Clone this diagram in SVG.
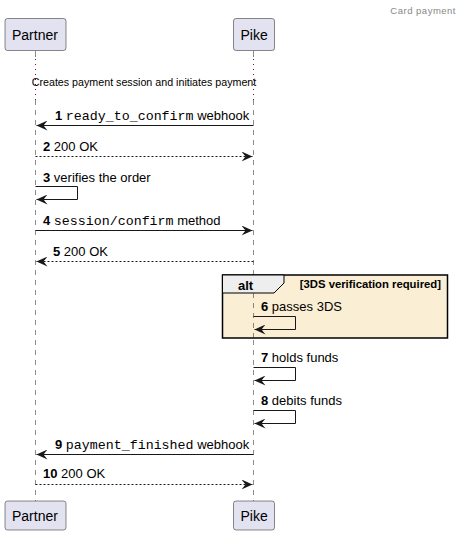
<svg xmlns="http://www.w3.org/2000/svg" width="463" height="538" viewBox="0 0 463 538">
<defs>
<style>
.part rect{fill:#E2E2F0;stroke:#181818;stroke-width:0.5}
.part text{font-family:"Liberation Sans",Arial,sans-serif;font-size:14px;fill:#000}
.life{stroke:#181818;stroke-width:0.5;stroke-dasharray:5,5;fill:none}
.delay{stroke:#800040;stroke-width:1;stroke-dasharray:1,4;fill:none}
.msg{stroke:#181818;stroke-width:1;fill:none}
.dash{stroke-dasharray:2,2}
.lbl{font-family:"Liberation Sans",Arial,sans-serif;font-size:13px;fill:#000}
.num{font-weight:bold}
.mono{font-family:"Liberation Mono","Courier New",monospace;font-size:13.3px}
</style>
<marker id="ah" viewBox="0 0 12 10" refX="11" refY="5" markerWidth="12" markerHeight="10" markerUnits="userSpaceOnUse" orient="auto">
<path d="M0,0 L11,5 L0,10 L4,5 Z" fill="#181818"/>
</marker>
</defs>
<rect width="463" height="538" fill="#FFFFFF"/>
<text x="456" y="14" text-anchor="end" font-family="Liberation Sans,Arial,sans-serif" font-size="9.5" fill="#888888" letter-spacing="0.5">Card payment</text>

<g id="lifelines">
<line x1="35.5" y1="51" x2="35.5" y2="57" stroke="#181818" stroke-width="0.5"/>
<line class="delay" x1="35.5" y1="59" x2="35.5" y2="100"/>
<line class="life" x1="35.5" y1="100" x2="35.5" y2="501"/>
<line x1="253.5" y1="51" x2="253.5" y2="57" stroke="#181818" stroke-width="0.5"/>
<line class="delay" x1="253.5" y1="59" x2="253.5" y2="100"/>
<line class="life" x1="253.5" y1="100" x2="253.5" y2="501"/>
</g>

<g id="partner-top" class="part"><rect x="5" y="18.5" width="61" height="32" rx="2.5"/><text x="12" y="40">Partner</text></g>
<g id="pike-top" class="part"><rect x="233.5" y="18.5" width="41" height="32" rx="2.5"/><text x="240.5" y="40">Pike</text></g>
<g id="partner-bottom" class="part"><rect x="5" y="501" width="61" height="29" rx="2.5"/><text x="12" y="520.5">Partner</text></g>
<g id="pike-bottom" class="part"><rect x="233.5" y="501" width="41" height="29" rx="2.5"/><text x="240.5" y="520.5">Pike</text></g>

<text x="144" y="86" text-anchor="middle" font-family="Liberation Sans,Arial,sans-serif" font-size="10.7" fill="#000">Creates payment session and initiates payment</text>

<g id="alt">
<rect x="222.5" y="275" width="225" height="63" fill="#FAEFD4" stroke="#000" stroke-width="1.5"/>
<path d="M222.5,275 L284,275 L284,283 L274,293 L222.5,293 Z" fill="#EEEEEE" stroke="#000" stroke-width="1"/>
<text x="238" y="289.5" font-family="Liberation Sans,Arial,sans-serif" font-size="13" font-weight="bold">alt</text>
<text x="441" y="288" text-anchor="end" font-family="Liberation Sans,Arial,sans-serif" font-size="11.3" font-weight="bold">[3DS verification required]</text>
<line x1="253.5" y1="293" x2="253.5" y2="338" class="life"/>
</g>

<g id="connectors">
<line class="msg" x1="253.5" y1="125.5" x2="36.5" y2="125.5" marker-end="url(#ah)"/>
<line class="msg dash" x1="35.5" y1="156.5" x2="252.5" y2="156.5" marker-end="url(#ah)"/>
<polyline class="msg" points="35.5,186.5 77.5,186.5 77.5,199.5 36.5,199.5" marker-end="url(#ah)"/>
<line class="msg" x1="35.5" y1="230.5" x2="252.5" y2="230.5" marker-end="url(#ah)"/>
<line class="msg dash" x1="253.5" y1="261.5" x2="36.5" y2="261.5" marker-end="url(#ah)"/>
<polyline class="msg" points="253.5,316.5 295.5,316.5 295.5,329.5 254.5,329.5" marker-end="url(#ah)"/>
<polyline class="msg" points="253.5,367.5 295.5,367.5 295.5,380.5 254.5,380.5" marker-end="url(#ah)"/>
<polyline class="msg" points="253.5,410.5 295.5,410.5 295.5,423.5 254.5,423.5" marker-end="url(#ah)"/>
<line class="msg" x1="253.5" y1="454.5" x2="36.5" y2="454.5" marker-end="url(#ah)"/>
<line class="msg dash" x1="35.5" y1="484.5" x2="252.5" y2="484.5" marker-end="url(#ah)"/>
</g>

<g id="labels">
<text class="lbl" x="55" y="120"><tspan class="num">1</tspan> <tspan class="mono">ready_to_confirm</tspan> webhook</text>
<text class="lbl" x="43" y="151"><tspan class="num">2</tspan> 200 OK</text>
<text class="lbl" x="43" y="182"><tspan class="num">3</tspan> verifies the order</text>
<text class="lbl" x="43" y="225"><tspan class="num">4</tspan> <tspan class="mono">session/confirm</tspan> method</text>
<text class="lbl" x="53" y="256"><tspan class="num">5</tspan> 200 OK</text>
<text class="lbl" x="261" y="311"><tspan class="num">6</tspan> passes 3DS</text>
<text class="lbl" x="261" y="362"><tspan class="num">7</tspan> holds funds</text>
<text class="lbl" x="261" y="405"><tspan class="num">8</tspan> debits funds</text>
<text class="lbl" x="55" y="449"><tspan class="num">9</tspan> <tspan class="mono">payment_finished</tspan> webhook</text>
<text class="lbl" x="43" y="478"><tspan class="num">10</tspan> 200 OK</text>
</g>
</svg>
